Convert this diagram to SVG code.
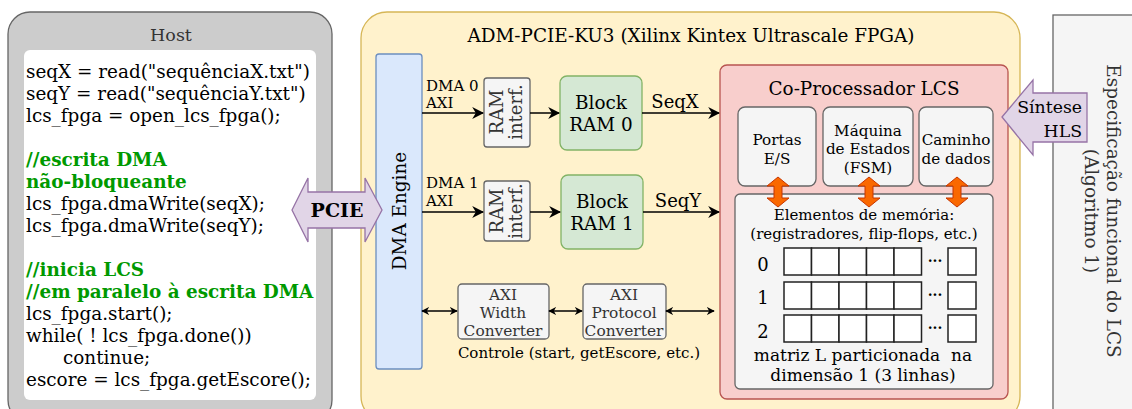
<svg xmlns="http://www.w3.org/2000/svg" width="1132" height="409" viewBox="0 0 1132 409">
<defs>
<style>
text{font-family:"DejaVu Serif","Liberation Serif",serif;}
.code{font-size:18.4px;fill:#000;}
.cmt{font-size:18.4px;fill:#009900;font-weight:bold;}
.gray{fill:#f5f5f5;stroke:#666;stroke-width:1.3;}
.lbl{font-size:15px;fill:#000;}
.c{text-anchor:middle;}
.conn{stroke:#000;stroke-width:1.5;fill:none;}
.oa{fill:#fa6800;stroke:#c73500;stroke-width:1;}
.pa{fill:#e1d5e7;stroke:#9673a6;stroke-width:1.3;}
</style>
<marker id="ah" viewBox="0 0 10 10" refX="9" refY="5" markerWidth="8" markerHeight="8" markerUnits="userSpaceOnUse" orient="auto-start-reverse">
<path d="M0,0 L10,5 L0,10 L3,5 Z" fill="#000"/>
</marker>
<marker id="ahb" viewBox="0 0 10 10" refX="9" refY="5" markerWidth="12" markerHeight="12" markerUnits="userSpaceOnUse" orient="auto-start-reverse">
<path d="M0,0 L10,5 L0,10 L3,5 Z" fill="#000"/>
</marker>
</defs>

<g id="host">
<rect x="8" y="12" width="324" height="410" rx="22" fill="#cccccc" stroke="#666" stroke-width="1.3"/>
<text x="171" y="41" class="c" font-size="17.5" fill="#333">Host</text>
<rect x="24" y="50" width="292" height="350" rx="6" fill="#fff"/>
<text x="26" y="78" class="code">seqX = read("sequênciaX.txt")</text>
<text x="26" y="100" class="code">seqY = read("sequênciaY.txt")</text>
<text x="26" y="122" class="code">lcs_fpga = open_lcs_fpga();</text>
<text x="26" y="166" class="cmt">//escrita DMA</text>
<text x="26" y="188" class="cmt">não-bloqueante</text>
<text x="26" y="210" class="code">lcs_fpga.dmaWrite(seqX);</text>
<text x="26" y="232" class="code">lcs_fpga.dmaWrite(seqY);</text>
<text x="26" y="276" class="cmt">//inicia LCS</text>
<text x="26" y="298" class="cmt">//em paralelo à escrita DMA</text>
<text x="26" y="320" class="code">lcs_fpga.start();</text>
<text x="26" y="342" class="code">while( ! lcs_fpga.done())</text>
<text x="63" y="364" class="code">continue;</text>
<text x="26" y="386" class="code">escore = lcs_fpga.getEscore();</text>
</g>

<g id="fpga">
<rect x="361" y="12" width="659" height="410" rx="26" fill="#fff2cc" stroke="#d6b656" stroke-width="1.3"/>
<text x="691" y="42" class="c" font-size="18.4" fill="#000">ADM-PCIE-KU3 (Xilinx Kintex Ultrascale FPGA)</text>
</g>

<g id="spec">
<rect x="1053" y="15" width="90" height="410" fill="#f5f5f5" stroke="#666" stroke-width="1.3"/>
<text transform="translate(1107,211) rotate(90)" class="c" font-size="18.4" fill="#333">Especificação funcional do LCS</text>
<text transform="translate(1085,211) rotate(90)" class="c" font-size="18.4" fill="#333">(Algoritmo 1)</text>
</g>

<g id="dma">
<rect x="376" y="54" width="46" height="315" rx="3" fill="#dae8fc" stroke="#6c8ebf" stroke-width="1.3"/>
<text transform="translate(406,211) rotate(-90)" class="c" font-size="18.4" fill="#000">DMA Engine</text>
</g>

<g id="pcie">
<polygon class="pa" points="292,210 308,178 308,192 365,192 365,178 382,210 365,242 365,228 308,228 308,242"/>
<text x="337" y="217" class="c" font-size="19" font-weight="bold" fill="#000">PCIE</text>
</g>

<g id="ram-if-0">
<rect x="484" y="78" width="46" height="69" rx="3" class="gray"/>
<text transform="translate(507,112) rotate(-90)" class="c" font-size="18" fill="#333"><tspan x="0" y="-4">RAM</tspan><tspan x="0" y="15">interf.</tspan></text>
</g>
<g id="ram-if-1">
<rect x="484" y="181" width="46" height="60" rx="3" class="gray"/>
<text transform="translate(507,211) rotate(-90)" class="c" font-size="18" fill="#333"><tspan x="0" y="-4">RAM</tspan><tspan x="0" y="15">interf.</tspan></text>
</g>

<g id="bram-0">
<rect x="560" y="76" width="82" height="74" rx="7" fill="#d5e8d4" stroke="#82b366" stroke-width="1.3"/>
<text x="601" y="109" class="c" font-size="18.4" fill="#000">Block</text>
<text x="601" y="131" class="c" font-size="18.4" fill="#000">RAM 0</text>
</g>
<g id="bram-1">
<rect x="561" y="175" width="82" height="74" rx="7" fill="#d5e8d4" stroke="#82b366" stroke-width="1.3"/>
<text x="602" y="208" class="c" font-size="18.4" fill="#000">Block</text>
<text x="602" y="230" class="c" font-size="18.4" fill="#000">RAM 1</text>
</g>

<g id="axi-width">
<rect x="458" y="284" width="91" height="55" rx="4" class="gray"/>
<text x="503" y="300" class="c" font-size="15.4" fill="#333">AXI</text>
<text x="503" y="318" class="c" font-size="15.4" fill="#333">Width</text>
<text x="503" y="336" class="c" font-size="15.4" fill="#333">Converter</text>
</g>
<g id="axi-protocol">
<rect x="583" y="284" width="83" height="55" rx="4" class="gray"/>
<text x="624" y="300" class="c" font-size="15.4" fill="#333">AXI</text>
<text x="624" y="318" class="c" font-size="15.4" fill="#333">Protocol</text>
<text x="624" y="336" class="c" font-size="15.4" fill="#333">Converter</text>
</g>

<g id="coproc">
<rect x="720" y="65" width="288" height="334" rx="7" fill="#f8cecc" stroke="#b85450" stroke-width="1.3"/>
<text x="864" y="95" class="c" font-size="18.4" fill="#000">Co-Processador LCS</text>
</g>

<g id="portas">
<rect x="738" y="107" width="78" height="79" rx="7" class="gray"/>
<text x="777" y="145" class="c" font-size="15.2" fill="#000">Portas</text>
<text x="777" y="164" class="c" font-size="15.2" fill="#000">E/S</text>
</g>
<g id="fsm">
<rect x="823" y="107" width="90" height="79" rx="7" class="gray"/>
<text x="868" y="136" class="c" font-size="15.2" fill="#000">Máquina</text>
<text x="868" y="154" class="c" font-size="15.2" fill="#000">de Estados</text>
<text x="868" y="173" class="c" font-size="15.2" fill="#000">(FSM)</text>
</g>
<g id="caminho">
<rect x="919" y="107" width="74" height="79" rx="7" class="gray"/>
<text x="956" y="145" class="c" font-size="15.2" fill="#000">Caminho</text>
<text x="956" y="164" class="c" font-size="15.2" fill="#000">de dados</text>
</g>

<g id="memoria">
<rect x="735" y="194" width="258" height="195" rx="5" class="gray"/>
<text x="864" y="220" class="c" font-size="15" fill="#000">Elementos de memória:</text>
<text x="864" y="239" class="c" font-size="15" fill="#000">(registradores, flip-flops, etc.)</text>
<g fill="#fff" stroke="#222" stroke-width="1.5">
<rect x="784" y="248" width="27.5" height="27"/><rect x="811.5" y="248" width="27.5" height="27"/><rect x="839" y="248" width="27.5" height="27"/><rect x="866.5" y="248" width="27.5" height="27"/><rect x="894" y="248" width="27.5" height="27"/><rect x="948" y="248" width="28" height="27"/>
<rect x="784" y="282" width="27.5" height="27"/><rect x="811.5" y="282" width="27.5" height="27"/><rect x="839" y="282" width="27.5" height="27"/><rect x="866.5" y="282" width="27.5" height="27"/><rect x="894" y="282" width="27.5" height="27"/><rect x="948" y="282" width="28" height="27"/>
<rect x="784" y="315" width="27.5" height="27"/><rect x="811.5" y="315" width="27.5" height="27"/><rect x="839" y="315" width="27.5" height="27"/><rect x="866.5" y="315" width="27.5" height="27"/><rect x="894" y="315" width="27.5" height="27"/><rect x="948" y="315" width="28" height="27"/>
</g>
<text x="763" y="271" class="c" font-size="18" fill="#000">0</text>
<text x="763" y="304" class="c" font-size="18" fill="#000">1</text>
<text x="763" y="338" class="c" font-size="18" fill="#000">2</text>
<text x="935" y="266" class="c" font-size="14" font-weight="bold" fill="#000">···</text>
<text x="935" y="300" class="c" font-size="14" font-weight="bold" fill="#000">···</text>
<text x="935" y="333" class="c" font-size="14" font-weight="bold" fill="#000">···</text>
<text x="863" y="361" class="c" font-size="17" fill="#000" xml:space="preserve">matriz L particionada  na</text>
<text x="863" y="381" class="c" font-size="17" fill="#000">dimensão 1 (3 linhas)</text>
</g>

<g id="sintese">
<polygon class="pa" points="1002,117 1033,80 1033,93 1087,93 1087,142 1033,142 1033,155"/>
<text x="1082" y="113" text-anchor="end" font-size="17.3" fill="#000">Síntese</text>
<text x="1082" y="137" text-anchor="end" font-size="17.3" fill="#000">HLS</text>
</g>

<g id="connectors">
<line x1="422" y1="113" x2="483" y2="113" class="conn" marker-end="url(#ahb)"/>
<line x1="530" y1="113" x2="559" y2="113" class="conn" marker-end="url(#ahb)"/>
<line x1="642" y1="113" x2="719" y2="113" class="conn" marker-end="url(#ahb)"/>
<line x1="422" y1="212" x2="483" y2="212" class="conn" marker-end="url(#ahb)"/>
<line x1="530" y1="212" x2="560" y2="212" class="conn" marker-end="url(#ahb)"/>
<line x1="643" y1="212" x2="719" y2="212" class="conn" marker-end="url(#ahb)"/>
<line x1="422" y1="311" x2="457" y2="311" class="conn" marker-start="url(#ah)" marker-end="url(#ah)"/>
<line x1="549" y1="311" x2="582" y2="311" class="conn" marker-start="url(#ah)" marker-end="url(#ah)"/>
<line x1="666" y1="311" x2="714" y2="311" class="conn" marker-start="url(#ah)" marker-end="url(#ah)"/>
<text x="426" y="91" class="lbl">DMA 0</text>
<text x="426" y="108" class="lbl">AXI</text>
<text x="426" y="188" class="lbl">DMA 1</text>
<text x="426" y="206" class="lbl">AXI</text>
<text x="675" y="108" class="c" font-size="18" fill="#000">SeqX</text>
<text x="678" y="207" class="c" font-size="18" fill="#000">SeqY</text>
<text x="579" y="358" class="c" font-size="15" fill="#000">Controle (start, getEscore, etc.)</text>
<polygon class="oa" points="778,177 789,186 782,186 782,198 789,198 778,207 767,198 774,198 774,186 767,186"/>
<polygon class="oa" points="869,177 880,186 873,186 873,198 880,198 869,207 858,198 865,198 865,186 858,186"/>
<polygon class="oa" points="957,177 968,186 961,186 961,198 968,198 957,207 946,198 953,198 953,186 946,186"/>
</g>
</svg>
